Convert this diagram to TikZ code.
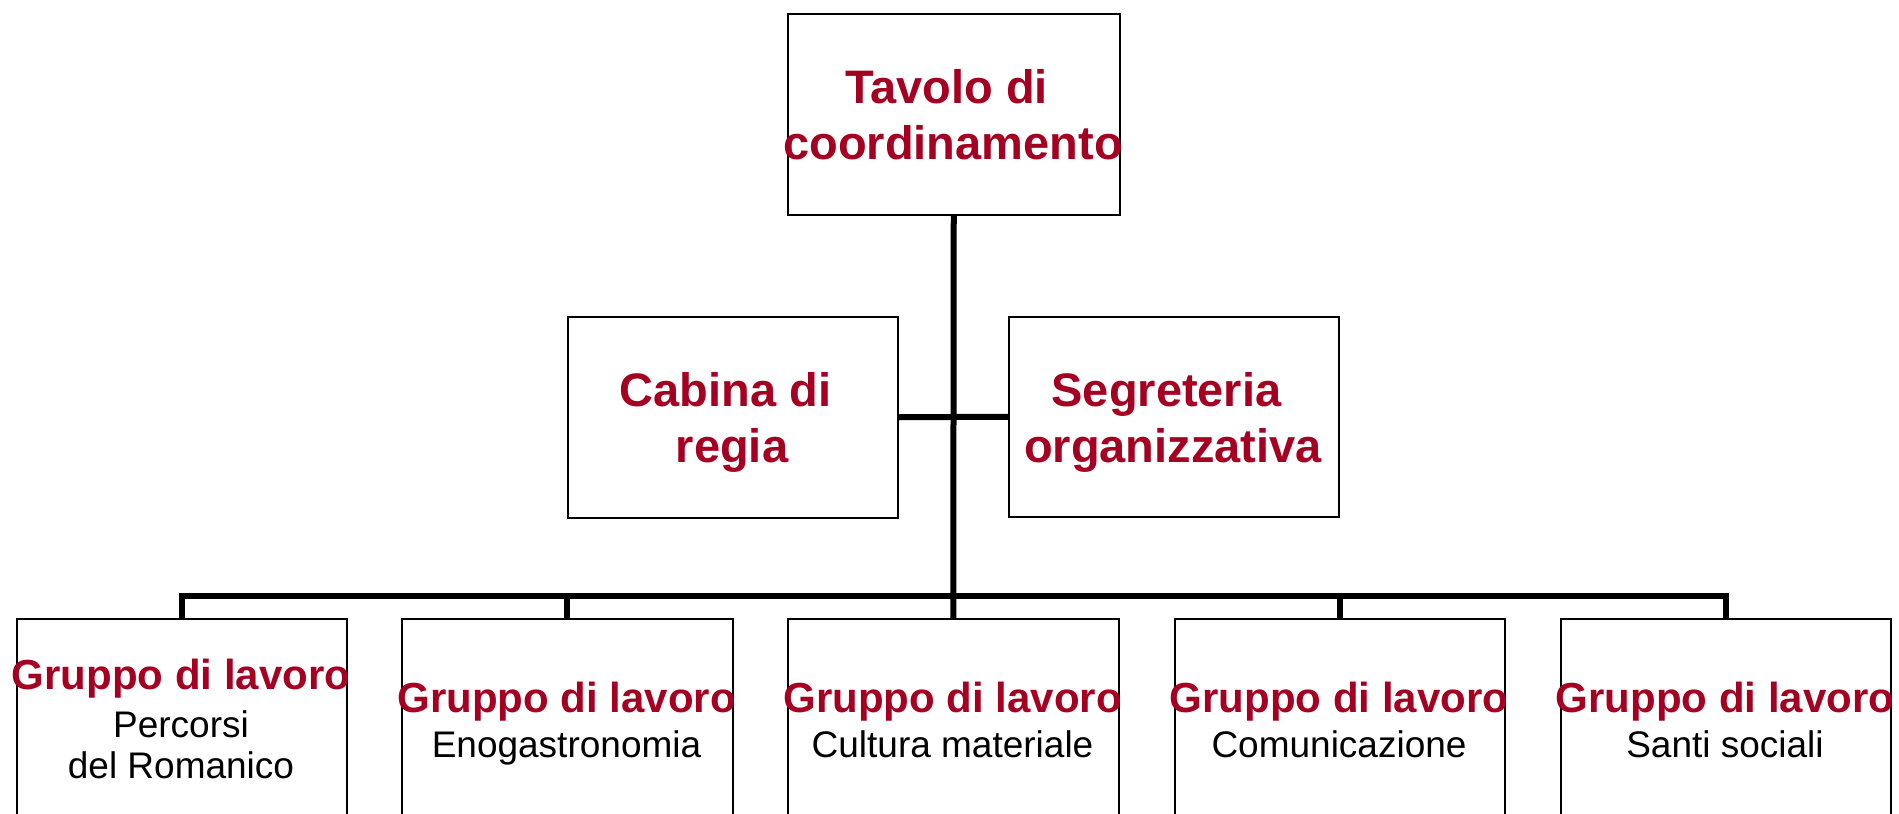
\documentclass[tikz,border=0pt]{standalone}
\usepackage{fontspec}
\setmainfont{Liberation Sans}
\definecolor{tred}{RGB}{165,0,33}
\begin{document}
\begin{tikzpicture}[x=1pt,y=-1pt,
  box/.style={draw=black, line width=1.5pt, rectangle, inner sep=0pt, anchor=north west},
  conn/.style={draw=black, line width=6pt},
  ttl/.style={font=\bfseries\fontsize{47}{56}\selectfont, text=tred, anchor=base, inner sep=0pt},
  grp/.style={font=\bfseries\fontsize{42}{48}\selectfont, text=tred, anchor=base, inner sep=0pt},
  sub/.style={font=\fontsize{37}{42}\selectfont, text=black, anchor=base, inner sep=0pt}]
\clip (0,0) rectangle (1899,814);
\fill[white] (0,0) rectangle (1899,814);
% boxes
\node[box, minimum width=332pt, minimum height=201pt] (top) at (787,13) {};
\node[box, minimum width=330pt, minimum height=201pt] (cab) at (567,316) {};
\node[box, minimum width=330pt, minimum height=200pt] (seg) at (1008,316) {};
\node[box, minimum width=330pt, minimum height=260pt] (g1) at (16,618) {};
\node[box, minimum width=331pt, minimum height=260pt] (g2) at (401,618) {};
\node[box, minimum width=331pt, minimum height=260pt] (g3) at (787,618) {};
\node[box, minimum width=330pt, minimum height=260pt] (g4) at (1174,618) {};
\node[box, minimum width=330pt, minimum height=260pt] (g5) at (1560,618) {};
% connectors
\coordinate (bus) at (953,596);
\draw[conn] (top.south) -- (g3.north);
\draw[conn] (cab.east) -- (seg.west);
\draw[conn] (g1.north) |- (bus) -| (g5.north);
\draw[conn] (g2.north) -- (g2.north |- bus);
\draw[conn] (g4.north) -- (g4.north |- bus);
% texts
\node[ttl] (topA) at (953,103) {Tavolo di\kern.278em};
\node[ttl] (topB) at (953,159) {coordinamento};
\node[ttl] (cabA) at (732,406) {Cabina di\kern.278em};
\node[ttl] (cabB) at (732,462) {regia};
\node[ttl] (segA) at (1173,406) {Segreteria\kern.278em};
\node[ttl] (segB) at (1173,462) {organizzativa};
\node[grp] (g1a) at (181,689) {Gruppo di lavoro};
\node[sub] (g1b) at (181,737) {Percorsi};
\node[sub] (g1c) at (181,778) {del Romanico};
\node[grp] (g2a) at (566.5,712) {Gruppo di lavoro};
\node[sub] (g2b) at (566.5,757) {Enogastronomia};
\node[grp] (g3a) at (952.5,712) {Gruppo di lavoro};
\node[sub] (g3b) at (952.5,757) {Cultura materiale};
\node[grp] (g4a) at (1339,712) {Gruppo di lavoro};
\node[sub] (g4b) at (1339,757) {Comunicazione};
\node[grp] (g5a) at (1725,712) {Gruppo di lavoro};
\node[sub] (g5b) at (1725,757) {Santi sociali};
\end{tikzpicture}
\end{document}
